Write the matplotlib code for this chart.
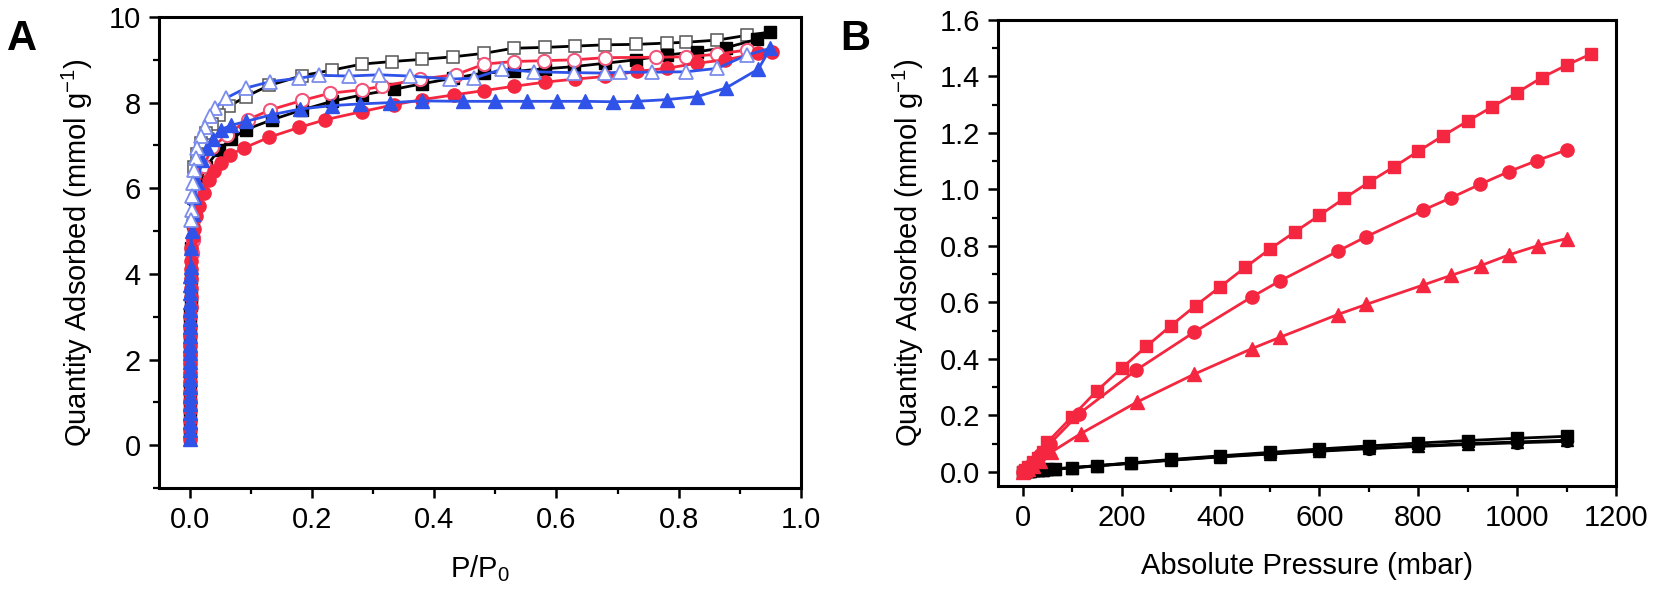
import matplotlib
matplotlib.use("Agg")
import matplotlib.pyplot as plt
from matplotlib.ticker import MultipleLocator

plt.rcParams['font.family'] = ['Liberation Sans', 'DejaVu Sans']
plt.rcParams['mathtext.fontset'] = 'custom'
plt.rcParams['mathtext.rm'] = 'Liberation Sans'
plt.rcParams['mathtext.it'] = 'Liberation Sans'

# ---- panel A: N2 isotherms (P/P0 vs mmol/g) ----
bk_ads_x = [0.0002, 0.0003, 0.0004, 0.0005, 0.0006, 0.0007, 0.0008, 0.0009, 0.001, 0.0011,
            0.0012, 0.0013, 0.0014, 0.0015, 0.0016, 0.0018, 0.0022, 0.003, 0.005, 0.009,
            0.016, 0.027, 0.048, 0.068, 0.092, 0.135, 0.184, 0.233, 0.282, 0.334,
            0.38, 0.431, 0.481, 0.53, 0.582, 0.628, 0.68, 0.73, 0.78, 0.83,
            0.877, 0.928, 0.95]
bk_ads_y = [0.2, 0.42, 0.64, 0.86, 1.08, 1.3, 1.52, 1.74, 1.96, 2.18,
            2.4, 2.62, 2.84, 3.06, 3.28, 3.5, 3.9, 4.6, 5.2, 5.75,
            6.15, 6.5, 6.9, 7.15, 7.37, 7.6, 7.83, 8.03, 8.18, 8.31,
            8.44, 8.57, 8.69, 8.73, 8.79, 8.84, 8.92, 9.0, 9.11, 9.19,
            9.28, 9.48, 9.65]
bk_des_x = [0.95, 0.911, 0.863, 0.812, 0.78, 0.73, 0.68, 0.631, 0.582, 0.53,
            0.481, 0.431, 0.38, 0.331, 0.282, 0.233, 0.184, 0.13, 0.092, 0.064,
            0.048, 0.036, 0.027, 0.019, 0.012, 0.007]
bk_des_y = [9.65, 9.57, 9.46, 9.41, 9.39, 9.36, 9.35, 9.32, 9.29, 9.27,
            9.15, 9.07, 9.01, 8.96, 8.9, 8.76, 8.63, 8.4, 8.14, 7.91,
            7.72, 7.5, 7.3, 7.05, 6.8, 6.5]

red_ads_x = [0.0002, 0.0003, 0.0004, 0.0005, 0.0006, 0.0007, 0.0008, 0.0009, 0.001, 0.0011,
             0.0012, 0.0013, 0.0014, 0.0015, 0.0016, 0.0017, 0.0018, 0.0019, 0.002, 0.0022,
             0.003, 0.005, 0.007, 0.011, 0.015, 0.023, 0.032, 0.04, 0.051, 0.066,
             0.089, 0.13, 0.179, 0.222, 0.282, 0.334, 0.38, 0.432, 0.481, 0.53,
             0.582, 0.631, 0.68, 0.732, 0.78, 0.83, 0.876, 0.93, 0.952]
red_ads_y = [0.15, 0.37, 0.59, 0.81, 1.03, 1.25, 1.47, 1.69, 1.91, 2.13,
             2.35, 2.57, 2.79, 3.01, 3.23, 3.45, 3.67, 3.89, 4.11, 4.3,
             4.6, 4.85, 5.05, 5.35, 5.58, 5.89, 6.2, 6.4, 6.6, 6.78,
             6.94, 7.19, 7.42, 7.6, 7.79, 7.95, 8.07, 8.18, 8.28, 8.38,
             8.48, 8.55, 8.61, 8.73, 8.8, 8.92, 9.0, 9.15, 9.19]
red_des_x = [0.952, 0.911, 0.863, 0.812, 0.763, 0.68, 0.629, 0.58, 0.53, 0.482,
             0.435, 0.377, 0.315, 0.282, 0.23, 0.184, 0.132, 0.095, 0.062, 0.037,
             0.023, 0.013, 0.008, 0.005, 0.004]
red_des_y = [9.19, 9.23, 9.13, 9.07, 9.06, 9.05, 9.0, 8.98, 8.96, 8.9,
             8.65, 8.55, 8.38, 8.3, 8.22, 8.05, 7.83, 7.6, 7.25, 6.96,
             6.51, 6.0, 5.3, 4.8, 4.49]

blue_ads_x = [0.0001, 0.0001, 0.0002, 0.0002, 0.0003, 0.0003, 0.0004, 0.0004, 0.0005, 0.0005,
              0.0006, 0.0006, 0.0007, 0.0008, 0.0009, 0.001, 0.0011, 0.0012, 0.0013, 0.0015,
              0.0017, 0.0025, 0.0035, 0.005, 0.008, 0.013, 0.021, 0.029, 0.039, 0.051,
              0.068, 0.092, 0.135, 0.181, 0.233, 0.279, 0.328, 0.38, 0.448, 0.5,
              0.552, 0.601, 0.647, 0.693, 0.732, 0.78, 0.83, 0.877, 0.93, 0.95]
blue_ads_y = [0.15, 0.35, 0.55, 0.75, 0.95, 1.15, 1.35, 1.55, 1.75, 1.95,
              2.15, 2.35, 2.55, 2.75, 2.95, 3.15, 3.35, 3.55, 3.75, 3.95,
              4.15, 4.6, 5.0, 5.4, 5.8, 6.15, 6.67, 6.94, 7.15, 7.37,
              7.47, 7.56, 7.72, 7.85, 7.93, 7.97, 8.0, 8.04, 8.03, 8.03,
              8.03, 8.03, 8.03, 8.02, 8.03, 8.07, 8.14, 8.34, 8.78, 9.27]
blue_des_x = [0.95, 0.911, 0.863, 0.812, 0.756, 0.704, 0.68, 0.629, 0.563, 0.511,
              0.465, 0.426, 0.361, 0.31, 0.26, 0.211, 0.179, 0.132, 0.092, 0.059,
              0.042, 0.033, 0.026, 0.018, 0.0125, 0.0098, 0.007, 0.006, 0.0044, 0.0033,
              0.0027]
blue_des_y = [9.27, 9.11, 8.8, 8.72, 8.71, 8.71, 8.69, 8.7, 8.72, 8.78,
              8.57, 8.55, 8.62, 8.65, 8.62, 8.64, 8.57, 8.49, 8.34, 8.1,
              7.87, 7.68, 7.44, 7.21, 6.94, 6.71, 6.43, 6.13, 5.81, 5.5,
              5.27]

# ---- panel B: gas uptake vs absolute pressure (mbar) ----
rsq_p = [0, 5, 10, 20, 30, 40, 50, 100, 150, 200, 250, 300, 350, 400, 450, 500, 550,
         600, 650, 700, 750, 800, 850, 900, 950, 1000, 1050, 1100, 1150]
rsq_q = [0.0, 0.008, 0.018, 0.035, 0.05, 0.07, 0.105, 0.196, 0.287, 0.367, 0.444, 0.518,
         0.589, 0.656, 0.724, 0.789, 0.849, 0.908, 0.968, 1.025, 1.079, 1.135, 1.19,
         1.242, 1.293, 1.343, 1.396, 1.44, 1.48]
rci_p = [0, 5, 10, 20, 35, 55, 114, 230, 347, 463, 520, 637, 695, 809, 867, 925, 983, 1040, 1100]
rci_q = [0.0, 0.008, 0.016, 0.032, 0.06, 0.1, 0.206, 0.361, 0.495, 0.619, 0.676, 0.781,
         0.833, 0.926, 0.971, 1.018, 1.063, 1.102, 1.14]
rtr_p = [0, 5, 10, 20, 35, 57, 117, 232, 347, 463, 521, 637, 695, 809, 867, 926, 983, 1042, 1100]
rtr_q = [0.0, 0.005, 0.01, 0.02, 0.04, 0.069, 0.135, 0.248, 0.346, 0.436, 0.477, 0.557,
         0.593, 0.661, 0.696, 0.73, 0.768, 0.801, 0.826]

blk_p = [0, 5, 10, 15, 20, 30, 40, 50, 66, 100, 150, 220, 300, 400, 500, 600, 700, 800, 900, 1000, 1100]
bsq_q = [0.0, 0.002, 0.003, 0.004, 0.005, 0.007, 0.008, 0.009, 0.011, 0.015, 0.022, 0.032,
         0.044, 0.057, 0.069, 0.081, 0.092, 0.102, 0.111, 0.119, 0.126]
bci_q = [0.0, 0.002, 0.003, 0.004, 0.005, 0.007, 0.008, 0.009, 0.01, 0.014, 0.021, 0.03,
         0.041, 0.053, 0.063, 0.073, 0.082, 0.09, 0.097, 0.103, 0.108]
btr_q = [0.0, 0.002, 0.003, 0.004, 0.005, 0.007, 0.008, 0.009, 0.011, 0.015, 0.022, 0.031,
         0.042, 0.054, 0.065, 0.075, 0.084, 0.092, 0.1, 0.106, 0.112]

RED = '#f5263f'
PINK = '#f2557a'
BLUE = '#2f52e8'
LBLUE = '#7a8cec'

fig = plt.figure(figsize=(16.54, 6.0), dpi=100)
axA = fig.add_axes([0.0961, 0.1867, 0.3882, 0.785])
axB = fig.add_axes([0.6034, 0.19, 0.3736, 0.7767])

lw = 2.0
ms = 9.5
skip = slice(1, None)

axA.plot(bk_des_x, bk_des_y, color='black', lw=lw, marker='s', ms=ms - 1, mfc='white',
         mec='#555555', mew=1.1, markevery=skip)
axA.plot(bk_ads_x, bk_ads_y, color='black', lw=lw, marker='s', ms=ms - 1, mfc='black', mec='black')
axA.plot(red_des_x, red_des_y, color=RED, lw=lw, marker='o', ms=ms, mfc='white',
         mec=PINK, mew=1.5, markevery=skip)
axA.plot(red_ads_x, red_ads_y, color=RED, lw=lw, marker='o', ms=ms, mfc=RED, mec=RED)
axA.plot(blue_ads_x, blue_ads_y, color=BLUE, lw=lw, marker='^', ms=ms + 1, mfc=BLUE, mec=BLUE)
axA.plot(blue_des_x, blue_des_y, color=BLUE, lw=lw, marker='^', ms=ms + 1, mfc='white',
         mec=LBLUE, mew=1.3, markevery=skip)

axA.set_xlim(-0.05, 1.0)
axA.set_ylim(-1, 10)
axA.xaxis.set_major_locator(MultipleLocator(0.2))
axA.xaxis.set_minor_locator(MultipleLocator(0.1))
axA.yaxis.set_major_locator(MultipleLocator(2))
axA.yaxis.set_minor_locator(MultipleLocator(1))
axA.xaxis.set_major_formatter(plt.FuncFormatter(lambda v, p: f"{v:.1f}"))
axA.set_xlabel('P/P$_0$', fontsize=21, labelpad=14)
axA.set_ylabel('Quantity Adsorbed (mmol g$^{-1}$)', fontsize=21, labelpad=10)

axB.plot(blk_p, bsq_q, color='black', lw=lw, marker='s', ms=ms - 1.5)
axB.plot(blk_p, bci_q, color='black', lw=lw, marker='o', ms=ms - 1)
axB.plot(blk_p, btr_q, color='black', lw=lw, marker='^', ms=ms - 1)
axB.plot(rsq_p, rsq_q, color=RED, lw=lw, marker='s', ms=ms - 1.5)
axB.plot(rci_p, rci_q, color=RED, lw=lw, marker='o', ms=ms)
axB.plot(rtr_p, rtr_q, color=RED, lw=lw, marker='^', ms=ms)

axB.set_xlim(-50, 1200)
axB.set_ylim(-0.05, 1.6)
axB.xaxis.set_major_locator(MultipleLocator(200))
axB.xaxis.set_minor_locator(MultipleLocator(100))
axB.yaxis.set_major_locator(MultipleLocator(0.2))
axB.yaxis.set_minor_locator(MultipleLocator(0.1))
axB.yaxis.set_major_formatter(plt.FuncFormatter(lambda v, p: f"{v:.1f}"))
axB.set_xlabel('Absolute Pressure (mbar)', fontsize=21, labelpad=14)
axB.set_ylabel('Quantity Adsorbed (mmol g$^{-1}$)', fontsize=21, labelpad=10)

for ax in (axA, axB):
    for s in ax.spines.values():
        s.set_linewidth(2.2)
    ax.tick_params(which='major', direction='out', length=7, width=1.8, labelsize=21, pad=6)
    ax.tick_params(which='minor', direction='out', length=4, width=1.6)

fig.text(0.004, 0.935, 'A', fontsize=30, fontweight='bold', ha='left', va='center')
fig.text(0.508, 0.935, 'B', fontsize=30, fontweight='bold', ha='left', va='center')

fig.savefig('out.png', dpi=100)
